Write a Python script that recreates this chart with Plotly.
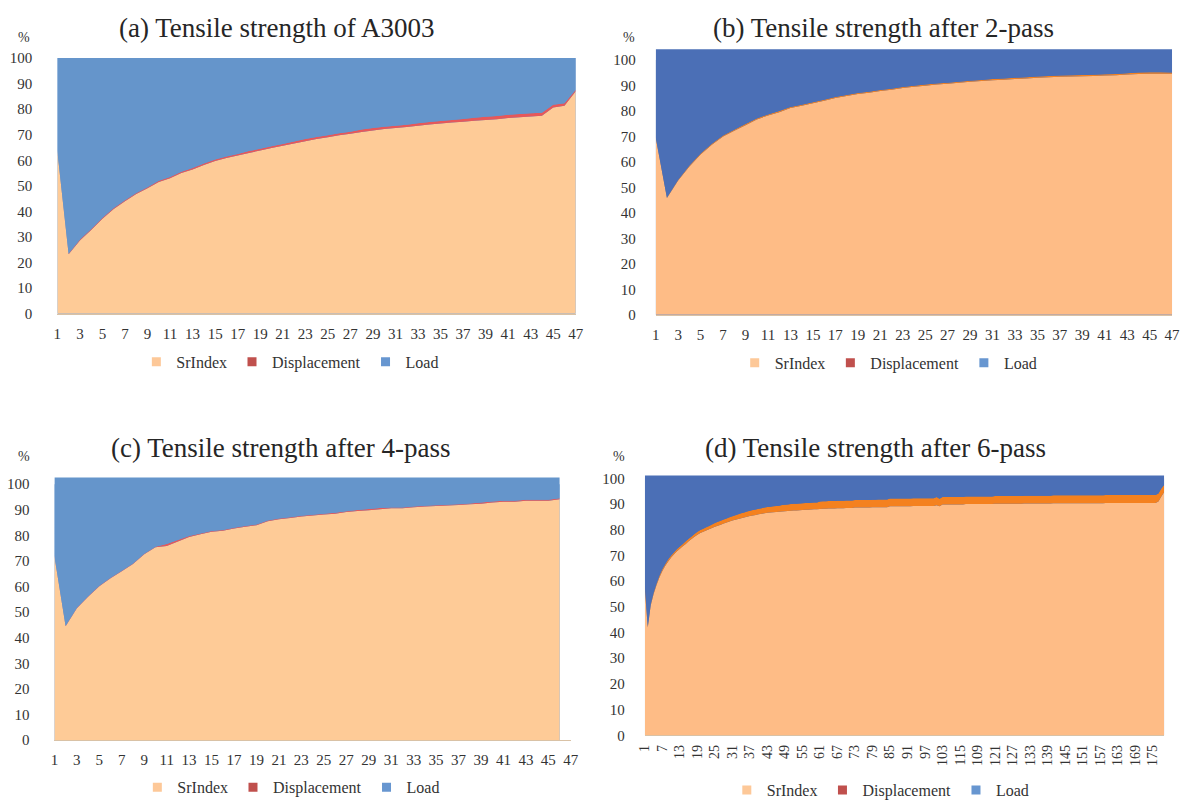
import plotly.graph_objects as go

# ---------------- data ----------------
x_a = list(range(1, 48))
sr_a = [63.5, 23.3, 28.7, 32.8, 37.2, 41.0, 44.0, 46.8, 49.1, 51.5,
        53.0, 55.0, 56.4, 58.2, 59.7, 60.9, 61.9, 62.9, 63.8, 64.8,
        65.7, 66.6, 67.5, 68.3, 69.0, 69.8, 70.4, 71.1, 71.7, 72.2,
        72.6, 73.0, 73.5, 74.0, 74.4, 74.8, 75.1, 75.5, 75.8, 76.1,
        76.5, 76.8, 77.1, 77.4, 80.6, 81.3, 87.0]
disp_a = [0.2, 0.3, 0.4, 0.4, 0.4, 0.4, 0.4, 0.4, 0.4, 0.5,
          0.5, 0.5, 0.6, 0.6, 0.6, 0.6, 0.6, 0.7, 0.7, 0.7,
          0.7, 0.8, 0.8, 0.8, 0.8, 0.8, 0.8, 0.9, 0.9, 0.9,
          0.9, 0.9, 1.0, 1.0, 1.0, 1.0, 1.1, 1.1, 1.2, 1.2,
          1.3, 1.3, 1.3, 1.2, 1.1, 1.0, 0.6]

x_b = list(range(1, 48))
sr_b = [69.5, 45.8, 52.7, 58.2, 62.9, 66.7, 69.9, 72.2, 74.4, 76.6,
        78.2, 79.5, 81.1, 82.0, 83.0, 84.0, 85.0, 85.8, 86.6, 87.1,
        87.8, 88.3, 89.0, 89.5, 89.9, 90.3, 90.6, 91.0, 91.4, 91.7,
        92.0, 92.2, 92.5, 92.7, 93.0, 93.2, 93.4, 93.5, 93.6, 93.7,
        93.9, 94.0, 94.3, 94.5, 94.6, 94.6, 94.6]
disp_b = [0.2, 0.2, 0.3, 0.4, 0.4, 0.4, 0.4, 0.4, 0.4, 0.4,
          0.4, 0.4, 0.4, 0.4, 0.4, 0.4, 0.4, 0.4, 0.4, 0.4,
          0.4, 0.4, 0.4, 0.4, 0.4, 0.4, 0.4, 0.4, 0.4, 0.4,
          0.5, 0.5, 0.5, 0.5, 0.5, 0.5, 0.5, 0.5, 0.5, 0.5,
          0.5, 0.5, 0.5, 0.5, 0.5, 0.5, 0.4]

x_c = list(range(1, 47))
sr_c = [72.0, 44.5, 51.5, 56.0, 60.1, 63.3, 66.0, 68.8, 72.6, 75.4,
        75.9, 77.6, 79.4, 80.4, 81.4, 81.8, 82.7, 83.4, 84.0, 85.5,
        86.3, 86.8, 87.4, 87.8, 88.2, 88.5, 89.1, 89.5, 89.8, 90.2,
        90.6, 90.6, 91.0, 91.3, 91.5, 91.7, 91.9, 92.2, 92.4, 92.8,
        93.1, 93.1, 93.5, 93.5, 93.5, 94.1]
disp_c = [0.2, 0.2, 0.2, 0.2, 0.2, 0.2, 0.2, 0.2, 0.2, 0.2,
          0.7, 0.6, 0.4, 0.3, 0.3, 0.3, 0.3, 0.3, 0.3, 0.3,
          0.3, 0.3, 0.3, 0.3, 0.3, 0.3, 0.3, 0.4, 0.5, 0.5,
          0.3, 0.3, 0.3, 0.3, 0.3, 0.3, 0.3, 0.3, 0.4, 0.4,
          0.4, 0.4, 0.4, 0.4, 0.4, 0.4]

x_d = list(range(1, 180))
sr_d = [57.0, 42.0, 50.5, 55.0, 58.5, 61.5, 64.0, 66.0, 67.7, 69.2,
        70.5, 71.6, 72.6, 73.6, 74.5, 75.5, 76.4, 77.3, 78.1, 78.7,
        79.2, 79.7, 80.2, 80.7, 81.2, 81.6, 82.0, 82.4, 82.8, 83.2,
        83.6, 83.9, 84.2, 84.5, 84.8, 85.1, 85.4, 85.6, 85.8, 86.0,
        86.2, 86.4, 86.6, 86.7, 86.8, 86.9, 87.0, 87.1, 87.2, 87.3,
        87.4, 87.5, 87.5, 87.6, 87.7, 87.8, 87.8, 87.9, 88.0, 88.0,
        88.1, 88.2, 88.2, 88.3, 88.3, 88.3, 88.4, 88.4, 88.4, 88.5,
        88.5, 88.5, 88.7, 88.7, 88.7, 88.7, 88.7, 88.7, 88.8, 88.8,
        88.8, 88.8, 88.8, 88.8, 89.2, 89.2, 89.2, 89.2, 89.2, 89.2,
        89.2, 89.2, 89.3, 89.3, 89.3, 89.3, 89.3, 89.3, 89.3, 89.3,
        89.5, 89.2, 89.8, 89.8, 89.8, 89.8, 89.8, 89.8, 89.8, 89.8,
        90.0, 90.0, 90.0, 90.0, 90.0, 90.0, 90.0, 90.0, 90.0, 90.0,
        90.1, 90.1, 90.1, 90.1, 90.1, 90.1, 90.1, 90.1, 90.1, 90.1,
        90.2, 90.2, 90.2, 90.2, 90.2, 90.2, 90.2, 90.2, 90.2, 90.2,
        90.3, 90.3, 90.3, 90.3, 90.3, 90.3, 90.3, 90.3, 90.3, 90.3,
        90.3, 90.3, 90.3, 90.3, 90.3, 90.3, 90.3, 90.3, 90.4, 90.4,
        90.4, 90.4, 90.4, 90.4, 90.4, 90.4, 90.4, 90.4, 90.4, 90.4,
        90.4, 90.4, 90.4, 90.4, 90.4, 90.4, 91.0, 93.0, 94.7]
disp_d = [1.5, 0.5, 0.5, 0.6, 0.6, 0.7, 0.7, 0.7, 0.8, 0.8,
          0.8, 0.9, 0.9, 0.9, 1.0, 1.0, 1.0, 1.1, 1.1, 1.2,
          1.2, 1.3, 1.3, 1.4, 1.4, 1.5, 1.5, 1.6, 1.6, 1.7,
          1.7, 1.8, 1.8, 1.9, 1.9, 2.0, 2.0, 2.1, 2.1, 2.2,
          2.2, 2.3, 2.3, 2.3, 2.4, 2.4, 2.4, 2.5, 2.5, 2.5,
          2.6, 2.6, 2.6, 2.6, 2.6, 2.6, 2.6, 2.6, 2.6, 2.6,
          2.9, 2.9, 2.9, 2.9, 2.9, 2.9, 2.9, 2.9, 2.9, 2.9,
          2.9, 2.9, 2.9, 2.9, 2.9, 2.9, 2.9, 2.9, 2.9, 2.9,
          3.0, 3.0, 3.0, 3.0, 3.0, 3.0, 3.0, 3.0, 3.0, 3.0,
          3.0, 3.0, 3.0, 3.0, 3.0, 3.0, 3.0, 3.0, 3.0, 3.0,
          3.3, 2.9, 3.0, 3.0, 3.0, 3.0, 3.0, 3.0, 3.0, 3.0,
          3.0, 3.0, 3.0, 3.0, 3.0, 3.0, 3.0, 3.0, 3.0, 3.0,
          3.0, 3.0, 3.0, 3.0, 3.0, 3.0, 3.0, 3.0, 3.0, 3.0,
          3.0, 3.0, 3.0, 3.0, 3.0, 3.0, 3.0, 3.0, 3.0, 3.0,
          3.1, 3.1, 3.1, 3.1, 3.1, 3.1, 3.1, 3.1, 3.1, 3.1,
          3.1, 3.1, 3.1, 3.1, 3.1, 3.1, 3.1, 3.1, 3.1, 3.1,
          3.1, 3.1, 3.1, 3.1, 3.1, 3.1, 3.1, 3.1, 3.1, 3.1,
          3.1, 3.1, 3.1, 3.1, 3.1, 3.1, 3.1, 3.1, 2.8]

# the remainder of each 100 % stack is the Load share
load_a = [round(100 - s - d, 2) for s, d in zip(sr_a, disp_a)]
load_b = [round(100 - s - d, 2) for s, d in zip(sr_b, disp_b)]
load_c = [round(100 - s - d, 2) for s, d in zip(sr_c, disp_c)]
load_d = [round(100 - s - d, 2) for s, d in zip(sr_d, disp_d)]

series_names = ["SrIndex", "Displacement", "Load"]
titles = ["(a) Tensile strength of A3003", "(b) Tensile strength after 2-pass",
          "(c) Tensile strength after 4-pass", "(d) Tensile strength after 6-pass"]

tick_vals_abc = [1, 3, 5, 7, 9, 11, 13, 15, 17, 19, 21, 23, 25, 27, 29, 31, 33,
                 35, 37, 39, 41, 43, 45, 47]
tick_text_abc = [str(v) for v in tick_vals_abc]
tick_vals_d = [1, 7, 13, 19, 25, 31, 37, 43, 49, 55, 61, 67, 73, 79, 85, 91, 97,
               103, 109, 115, 121, 127, 133, 139, 145, 151, 157, 163, 169, 175]
tick_text_d = ["1", "7", "13", "19", "25", "31", "37", "43", "49", "55", "61", "67",
               "73", "79", "85", "91", "97", "103", "115", "109", "121", "127",
               "133", "139", "145", "151", "157", "163", "169", "175"]
y_ticks = [0, 10, 20, 30, 40, 50, 60, 70, 80, 90, 100]

# ---------------- styles ----------------
W, H = 1189, 809
FONT = "Liberation Serif"
light_fill = ["#FECB97", "#E6585A", "#6595CB"]
dark_fill = ["#FEBC86", "#F4811F", "#4B6FB6"]
legend_cols = ["#FDC898", "#C0504D", "#6796D0"]


def px_x(p):
    return p / W


def px_y(p):
    return 1 - p / H


panels = [
    dict(x=x_a, s=[sr_a, disp_a, load_a], fill=light_fill, xd=(51, 576), yd=(51, 312),
         yr=(0, 100), xr=(1, 47), tv=tick_vals_abc, tt=tick_text_abc, ang=0,
         leg=(131, 361), title=(273, 20), pct=(17, 30), stand_y=24, stand_x=6),
    dict(x=x_b, s=[sr_b, disp_b, load_b], fill=dark_fill, xd=(657, 1180), yd=(42, 313),
         yr=(0, 104.2), xr=(1, 47), tv=tick_vals_abc, tt=tick_text_abc, ang=0,
         leg=(737, 362), title=(888, 20), pct=(630, 30), stand_y=19, stand_x=6),
    dict(x=x_c, s=[sr_c, disp_c, load_c], fill=light_fill, xd=(48, 571), yd=(479, 747),
         yr=(0, 102.6), xr=(1, 47), tv=tick_vals_abc, tt=tick_text_abc, ang=0,
         leg=(132, 795), title=(278, 449), pct=(17, 458), stand_y=24, stand_x=6),
    dict(x=x_d, s=[sr_d, disp_d, load_d], fill=dark_fill, xd=(646, 1172), yd=(477, 742),
         yr=(0, 101.1), xr=(1, 179), tv=tick_vals_d, tt=tick_text_d, ang=-90,
         leg=(729, 798), title=(880, 449), pct=(620, 458), stand_y=19, stand_x=3),
]

fig = go.Figure()
layout = dict(width=W, height=H, margin=dict(l=0, r=0, t=0, b=0),
              paper_bgcolor="white", plot_bgcolor="white", showlegend=True,
              font=dict(family=FONT, color="#333333"),
              annotations=[], shapes=[])

for i, p in enumerate(panels):
    n = "" if i == 0 else str(i + 1)
    xa, ya = "x" + n, "y" + n
    lg = "legend" + n
    # Load colour behind the stack (covers the strip above the 100 % line)
    layout["shapes"].append(dict(type="rect", xref=xa, yref=ya + " domain",
                                 x0=p["x"][0], x1=p["x"][-1], y0=0, y1=1,
                                 fillcolor=p["fill"][2], line=dict(width=0), layer="below"))
    for k in range(3):
        fig.add_trace(go.Scatter(x=p["x"], y=p["s"][k], stackgroup="g" + str(i), mode="none",
                                 fillcolor=p["fill"][k], line=dict(width=0),
                                 showlegend=False, hoverinfo="skip", xaxis=xa, yaxis=ya,
                                 name=series_names[k]))
    for k in range(3):
        fig.add_trace(go.Scatter(x=[None], y=[None], mode="markers", name=series_names[k],
                                 marker=dict(symbol="square", size=9, color=legend_cols[k]),
                                 legend=lg, xaxis=xa, yaxis=ya, showlegend=True))
    layout["xaxis" + n] = dict(domain=[px_x(p["xd"][0]), px_x(p["xd"][1])], anchor=ya,
                               range=list(p["xr"]), tickvals=p["tv"], ticktext=p["tt"],
                               tickangle=p["ang"], showgrid=False, zeroline=False,
                               showline=True, linecolor="#D9C2A6", linewidth=1, ticks="",
                               ticklabelstandoff=p["stand_x"],
                               tickfont=dict(family=FONT, size=15 if p["ang"] == 0 else 14,
                                             color="#333333"))
    layout["yaxis" + n] = dict(domain=[px_y(p["yd"][1]), px_y(p["yd"][0])], anchor=xa,
                               range=list(p["yr"]), tickvals=y_ticks, showgrid=False,
                               zeroline=False, showline=False, ticks="",
                               ticklabelstandoff=p["stand_y"],
                               tickfont=dict(family=FONT, size=15, color="#333333"))
    layout[lg] = dict(orientation="h", x=px_x(p["leg"][0]), y=px_y(p["leg"][1]),
                      xanchor="left", yanchor="middle", bgcolor="rgba(0,0,0,0)",
                      traceorder="normal",
                      font=dict(family=FONT, size=16, color="#333333"), itemwidth=30)
    layout["annotations"].append(dict(text=titles[i], x=px_x(p["title"][0]),
                                      y=px_y(p["title"][1]), xref="paper", yref="paper",
                                      showarrow=False, xanchor="center", yanchor="middle",
                                      font=dict(family=FONT, size=27, color="#262626")))
    layout["annotations"].append(dict(text="%", x=px_x(p["pct"][0]), y=px_y(p["pct"][1]),
                                      xref="paper", yref="paper", showarrow=False,
                                      xanchor="center", yanchor="middle",
                                      font=dict(family=FONT, size=14, color="#333333")))

fig.update_layout(**layout)
fig.write_html("out.html")
